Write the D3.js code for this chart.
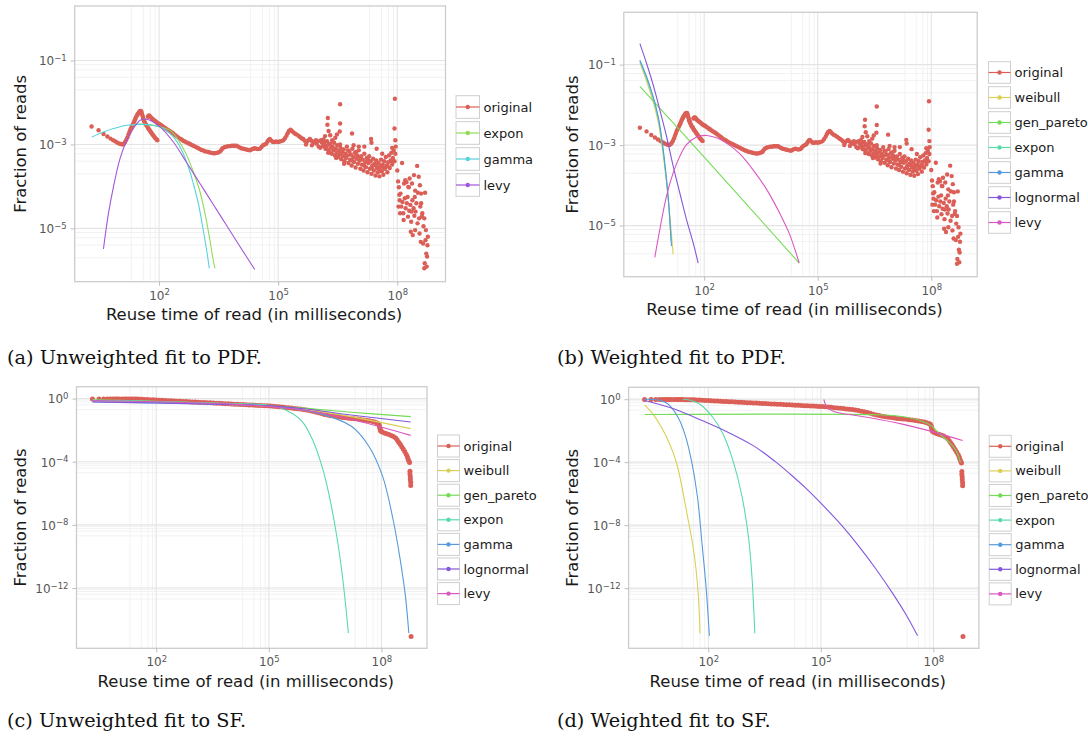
<!DOCTYPE html>
<html lang="en">
<head>
<meta charset="utf-8">
<title>Reuse time of reads: fitted distributions</title>
<script src="https://cdn.jsdelivr.net/npm/d3@7"></script>
<style>
  body { margin: 0; background: #fff; }
  svg { display: block; }
</style>
</head>
<body>
<script>
// every pair is [log10(reuse time in ms), log10(fraction of reads)]

// empirical PDF (panels a and b)
const pdfOriginal = [
  [0.301,-2.57],[0.477,-2.66],[0.602,-2.75],[0.699,-2.81],[0.778,-2.86],[0.845,-2.90],[0.903,-2.93],[0.954,-2.96],
  [1.000,-2.98],[1.041,-2.99],[1.079,-3.00],[1.114,-2.98],[1.146,-2.94],[1.176,-2.89],[1.204,-2.83],[1.230,-2.76],
  [1.255,-2.70],[1.279,-2.64],[1.301,-2.60],[1.322,-2.56],[1.342,-2.52],[1.362,-2.48],[1.380,-2.44],[1.398,-2.40],
  [1.415,-2.36],[1.431,-2.33],[1.447,-2.30],[1.462,-2.28],[1.477,-2.26],[1.491,-2.24],[1.505,-2.22],[1.519,-2.21],
  [1.531,-2.20],[1.544,-2.20],[1.556,-2.22],[1.568,-2.26],[1.580,-2.30],[1.591,-2.34],[1.602,-2.38],[1.613,-2.41],
  [1.623,-2.44],[1.633,-2.46],[1.653,-2.50],[1.672,-2.53],[1.690,-2.55],[1.708,-2.58],[1.724,-2.61],[1.740,-2.63],
  [1.763,-2.66],[1.785,-2.69],[1.806,-2.72],[1.826,-2.75],[1.851,-2.78],[1.875,-2.81],[1.898,-2.84],[1.919,-2.86],
  [1.940,-2.88],[1.958,-2.90],
  [1.716,-2.34],[1.732,-2.32],[1.748,-2.31],[1.763,-2.32],[1.780,-2.34],[1.800,-2.36],[1.820,-2.38],[1.845,-2.40],
  [1.870,-2.42],[1.900,-2.44],[1.925,-2.46],[1.950,-2.48],[1.975,-2.50],[2.000,-2.51],[2.025,-2.52],[2.050,-2.54],
  [2.080,-2.56],[2.110,-2.58],[2.140,-2.60],[2.170,-2.62],[2.200,-2.64],[2.235,-2.66],[2.270,-2.68],[2.300,-2.70],
  [2.330,-2.72],[2.360,-2.74],[2.400,-2.77],[2.440,-2.80],[2.480,-2.83],[2.528,-2.86],[2.570,-2.88],[2.610,-2.91],
  [2.650,-2.93],[2.696,-2.95],[2.740,-2.97],[2.780,-2.99],[2.820,-3.01],[2.864,-3.03],[2.910,-3.05],[2.950,-3.07],
  [2.990,-3.09],[3.031,-3.11],[3.070,-3.13],[3.110,-3.14],[3.150,-3.16],[3.199,-3.17],[3.240,-3.18],[3.280,-3.19],
  [3.320,-3.20],[3.366,-3.21],[3.410,-3.21],[3.450,-3.20],[3.490,-3.19],[3.534,-3.17],[3.560,-3.14],[3.590,-3.10],
  [3.618,-3.08],[3.660,-3.06],[3.700,-3.05],[3.740,-3.04],[3.786,-3.04],[3.830,-3.03],[3.870,-3.03],[3.910,-3.03],
  [3.953,-3.03],[3.990,-3.05],[4.030,-3.07],[4.070,-3.09],[4.121,-3.10],[4.160,-3.11],[4.200,-3.12],[4.247,-3.13],
  [4.290,-3.14],[4.330,-3.12],[4.370,-3.10],[4.410,-3.09],[4.450,-3.10],[4.490,-3.11],[4.540,-3.10],[4.580,-3.06],
  [4.620,-3.02],[4.660,-3.00],[4.700,-2.98],[4.730,-2.93],[4.760,-2.89],[4.790,-2.87],[4.830,-2.91],[4.870,-2.94],
  [4.910,-2.94],[4.950,-2.93],[5.000,-2.94],[5.040,-2.93],[5.080,-2.92],[5.130,-2.90],[5.170,-2.85],[5.210,-2.79],
  [5.240,-2.73],[5.270,-2.68],[5.310,-2.65],[5.340,-2.67],[5.380,-2.71],[5.420,-2.74],[5.460,-2.76],[5.510,-2.79],
  [5.550,-2.82],[5.590,-2.85],[5.630,-2.87],[5.670,-2.91],[5.720,-2.94],[5.760,-2.90],[5.800,-2.87],[5.840,-2.91],
  [5.890,-2.94],[5.930,-2.96],[5.970,-2.98],[6.010,-2.92],[6.060,-3.08],[6.100,-2.95],[6.140,-2.88],[6.180,-2.80],
  [5.700,-3.00],[5.850,-3.02],[6.020,-3.05],[6.080,-2.90],[5.950,-2.90],[6.120,-3.04],
  [6.15,-3.02],[6.17,-2.95],[6.19,-3.10],[6.21,-3.04],[6.23,-2.92],[6.25,-3.12],[6.26,-3.20],[6.27,-3.00],
  [6.29,-3.18],[6.31,-2.98],[6.33,-3.08],[6.35,-3.22],[6.36,-2.90],[6.37,-3.05],[6.39,-3.14],[6.41,-2.96],
  [6.43,-3.26],[6.45,-3.10],[6.46,-3.32],[6.47,-3.20],[6.49,-3.02],[6.51,-3.30],[6.53,-3.15],[6.55,-3.24],
  [6.56,-3.00],[6.57,-3.08],[6.59,-3.35],[6.61,-3.18],[6.63,-3.28],[6.65,-3.12],[6.66,-3.46],[6.67,-3.40],
  [6.69,-3.22],[6.71,-3.32],[6.73,-3.05],[6.75,-3.26],[6.76,-3.14],[6.77,-3.44],[6.79,-3.16],[6.81,-3.36],
  [6.83,-3.24],[6.85,-3.50],[6.86,-3.38],[6.87,-3.10],[6.89,-3.30],[6.91,-3.42],[6.93,-3.20],[6.95,-3.55],
  [6.96,-3.18],[6.97,-3.34],[6.99,-3.26],[7.01,-3.46],[7.03,-3.14],[7.05,-3.38],[7.06,-3.30],[7.07,-3.58],
  [7.09,-3.28],[7.11,-3.48],[7.13,-3.36],[7.15,-3.62],[7.16,-3.50],[7.17,-3.22],[7.19,-3.42],[7.21,-3.54],
  [7.23,-3.32],[7.25,-3.66],[7.26,-3.36],[7.27,-3.44],[7.29,-3.28],[7.31,-3.58],[7.33,-3.40],[7.35,-3.70],
  [7.36,-3.56],[7.37,-3.50],[7.39,-3.34],[7.41,-3.62],[7.43,-3.46],[7.45,-3.74],[7.46,-3.50],[7.47,-3.38],
  [7.49,-3.56],[7.51,-3.66],[7.53,-3.44],[7.55,-3.76],[7.56,-3.60],[7.57,-3.52],[7.59,-3.36],[7.61,-3.64],
  [7.63,-3.48],[7.65,-3.72],[7.66,-3.56],[7.67,-3.40],[7.69,-3.58],[7.71,-3.30],[7.73,-3.50],[7.75,-3.66],
  [7.76,-3.52],[7.77,-3.42],[7.79,-3.26],[7.81,-3.56],[7.83,-3.38],[7.85,-3.20],[7.86,-3.40],[7.87,-3.48],
  [7.89,-3.32],[7.91,-3.14],[7.93,-3.40],[7.95,-3.22],
  [6.25,-2.37],[6.24,-2.53],[6.27,-2.68],[6.31,-2.78],[6.56,-2.04],[6.56,-2.50],[6.55,-2.69],[6.86,-2.74],
  [7.34,-2.87],[7.35,-2.96],[7.94,-1.91],[7.93,-2.62],[7.95,-2.90],[7.96,-3.05],[6.44,-2.84],[6.48,-2.76],
  [7.17,-3.05],[7.48,-3.10],[7.62,-3.22],[7.87,-3.08],[6.90,-3.02],[7.03,-3.05],
  [8.00,-3.62],[8.02,-3.88],[8.04,-4.02],[8.03,-4.48],[8.05,-4.20],[8.06,-4.33],[8.07,-4.64],[8.08,-4.17],
  [8.10,-4.48],[8.12,-3.44],[8.13,-4.37],[8.15,-4.64],[8.16,-4.80],[8.17,-3.93],[8.19,-4.28],[8.21,-4.52],
  [8.23,-3.90],[8.24,-4.40],[8.26,-4.25],[8.27,-4.72],[8.29,-4.02],[8.30,-4.58],[8.31,-3.81],[8.33,-4.44],
  [8.34,-5.08],[8.35,-4.84],[8.37,-3.93],[8.38,-4.33],[8.39,-5.16],[8.41,-4.52],[8.42,-3.73],[8.43,-4.70],
  [8.44,-4.25],[8.45,-5.04],[8.46,-4.60],[8.48,-4.40],[8.50,-3.51],[8.51,-4.88],[8.52,-4.15],[8.54,-3.77],
  [8.55,-4.76],[8.56,-5.12],[8.57,-3.97],[8.58,-4.48],[8.59,-5.32],[8.60,-4.17],[8.62,-4.71],[8.63,-4.64],
  [8.65,-5.36],[8.66,-4.95],[8.68,-4.76],[8.69,-5.83],[8.70,-4.15],[8.71,-5.28],[8.72,-5.04],[8.73,-5.60],
  [8.74,-5.91],[8.75,-5.67],[8.76,-5.40],[8.68,-5.95],[8.77,-5.20],[8.60,-4.40],[8.45,-4.10],[8.28,-4.01],
  [8.20,-3.85],[8.36,-4.60]
];

// empirical survival function (panels c and d)
const sfOriginal = [
  [0.301,-0.02],[0.477,-0.02],[0.602,-0.02],[0.699,-0.02],[0.778,-0.02],[0.845,-0.02],[0.903,-0.02],[0.954,-0.02],
  [1.00,-0.02],[1.08,-0.02],[1.15,-0.02],[1.20,-0.02],[1.26,-0.02],[1.32,-0.02],[1.38,-0.03],[1.44,-0.03],
  [1.50,-0.03],[1.56,-0.04],[1.62,-0.04],[1.68,-0.05],[1.76,-0.06],[1.84,-0.07],[1.92,-0.08],[2.00,-0.09],
  [2.08,-0.10],[2.16,-0.11],[2.24,-0.12],[2.32,-0.13],[2.40,-0.14],[2.48,-0.15],[2.56,-0.16],[2.64,-0.17],
  [2.72,-0.18],[2.80,-0.19],[2.88,-0.20],[2.96,-0.21],[3.04,-0.22],[3.12,-0.23],[3.20,-0.24],[3.28,-0.25],
  [3.36,-0.26],[3.44,-0.27],[3.52,-0.28],[3.60,-0.29],[3.68,-0.30],[3.76,-0.31],[3.84,-0.32],[3.92,-0.33],
  [4.00,-0.34],[4.08,-0.35],[4.16,-0.36],[4.24,-0.37],[4.32,-0.38],[4.40,-0.39],[4.48,-0.40],[4.56,-0.41],
  [4.64,-0.42],[4.72,-0.43],[4.80,-0.44],[4.88,-0.45],[4.96,-0.46],[5.04,-0.47],[5.12,-0.48],[5.20,-0.50],
  [5.28,-0.52],[5.36,-0.54],[5.44,-0.56],[5.52,-0.58],[5.60,-0.60],[5.68,-0.62],[5.76,-0.64],[5.84,-0.66],
  [5.92,-0.69],[6.00,-0.72],[6.08,-0.76],[6.16,-0.80],[6.24,-0.85],[6.32,-0.90],[6.40,-0.95],[6.48,-1.00],
  [6.56,-1.04],[6.64,-1.08],[6.72,-1.11],[6.80,-1.14],[6.88,-1.17],[6.96,-1.20],[7.04,-1.22],[7.12,-1.24],
  [7.20,-1.26],[7.28,-1.28],[7.36,-1.30],[7.44,-1.32],[7.52,-1.35],[7.60,-1.38],[7.68,-1.41],[7.76,-1.45],
  [7.82,-1.49],[7.88,-1.54],[7.92,-1.60],[7.94,-1.68],[7.95,-1.78],[7.96,-1.88],[7.97,-1.98],[7.98,-2.06],
  [8.02,-2.12],[8.08,-2.18],[8.14,-2.23],[8.20,-2.28],[8.26,-2.33],[8.32,-2.40],[8.38,-2.50],[8.42,-2.62],
  [8.46,-2.76],[8.50,-2.90],[8.54,-3.05],[8.58,-3.20],[8.62,-3.35],[8.66,-3.52],[8.69,-3.68],[8.71,-3.82],
  [8.73,-3.95],[8.75,-4.05],[8.76,-4.60],[8.76,-4.78],[8.77,-4.95],[8.77,-5.12],[8.78,-5.30],[8.78,-5.50],
  [8.79,-15.07]
];

// (a) unweighted fits to the PDF
const aExpon = [[1.313,-2.54],[1.522,-2.516],[2.025,-2.579],[2.277,-2.659],[2.486,-2.897],[2.696,-3.254],[2.863,-3.651],
  [3.031,-4.127],[3.157,-4.643],[3.266,-5.198],[3.35,-5.675],[3.408,-5.952]];
const aGamma = [[0.307,-2.82],[0.60,-2.70],[0.852,-2.62],[1.187,-2.54],[1.522,-2.52],[1.857,-2.54],[2.109,-2.62],
  [2.36,-2.82],[2.57,-3.135],[2.738,-3.53],[2.863,-3.93],[2.989,-4.40],[3.098,-4.96],[3.199,-5.52],[3.266,-5.95]];
const aLevy = [[0.60,-5.49],[0.726,-4.643],[0.852,-4.008],[1.019,-3.333],[1.187,-2.897],[1.355,-2.619],[1.522,-2.421],
  [1.648,-2.397],[1.774,-2.421],[2.025,-2.58],[2.36,-2.94],[2.696,-3.43],[3.031,-3.93],[3.366,-4.43],
  [3.702,-4.93],[4.037,-5.43],[4.41,-5.98]];

// (b) weighted fits to the PDF
const bWeibull = [[0.301,-0.95],[0.474,-1.40],[0.651,-1.92],[0.783,-2.42],[0.871,-2.92],[0.959,-3.55],[1.048,-4.30],
  [1.12,-5.05],[1.18,-5.72]];
const bGenPareto = [[0.301,-1.54],[2.0,-3.30],[4.51,-5.93]];
const bExpon = [[0.301,-0.91],[0.474,-1.33],[0.651,-1.84],[0.783,-2.33],[0.871,-2.84],[0.959,-3.50],[1.048,-4.33],
  [1.10,-5.0],[1.125,-5.38]];
const bGamma = [[0.301,-0.89],[0.474,-1.29],[0.651,-1.79],[0.783,-2.28],[0.871,-2.78],[0.959,-3.44],[1.048,-4.27],
  [1.109,-5.10],[1.136,-5.51]];
const bLognormal = [[0.301,-0.48],[0.474,-0.96],[0.651,-1.50],[0.827,-2.12],[1.004,-2.78],[1.18,-3.52],[1.356,-4.19],
  [1.533,-4.85],[1.709,-5.43],[1.841,-5.93]];
const bLevy = [[0.695,-5.79],[0.827,-5.10],[1.004,-4.27],[1.18,-3.69],[1.356,-3.28],[1.533,-2.99],[1.797,-2.80],
  [2.062,-2.76],[2.326,-2.82],[2.591,-2.95],[2.944,-3.22],[3.296,-3.62],[3.649,-4.10],[4.0,-4.70],[4.25,-5.20],
  [4.51,-5.93]];

// (c) unweighted fits to the SF
const cWeibull = [[0.301,-0.15],[2,-0.25],[4,-0.38],[5,-0.48],[6,-0.70],[7.19,-1.14],[8.78,-1.90]];
const cGenPareto = [[0.301,-0.08],[2,-0.17],[4,-0.33],[5,-0.45],[6,-0.62],[7.19,-0.86],[8.78,-1.14]];
const cExpon = [[0.301,-0.10],[2,-0.18],[4,-0.32],[5,-0.42],[5.5,-0.78],[5.88,-1.42],[6.16,-2.58],[6.44,-4.49],
  [6.63,-6.39],[6.81,-8.72],[6.95,-11.05],[7.05,-13.16],[7.12,-14.86]];
const cGamma = [[0.301,-0.20],[2,-0.27],[4,-0.36],[5,-0.46],[6.25,-0.89],[7.19,-1.74],[7.66,-3.0],[8.03,-4.91],
  [8.31,-7.66],[8.50,-10.2],[8.64,-12.53],[8.73,-14.86]];
const cLognormal = [[0.301,-0.22],[2,-0.28],[4,-0.38],[5,-0.46],[6,-0.66],[7.19,-1.04],[8.78,-1.48]];
const cLevy = [[0.301,-0.12],[2,-0.20],[4,-0.35],[5,-0.50],[6,-0.75],[7.19,-1.31],[8.78,-2.33]];

// (d) weighted fits to the SF
const dWeibull = [[0.301,-0.36],[0.53,-0.96],[0.76,-1.82],[0.98,-2.89],[1.16,-4.1],[1.43,-7.24],[1.62,-9.78],
  [1.73,-12.3],[1.78,-14.86]];
const dGenPareto = [[0.301,-0.97],[6.4,-0.98],[7.0,-1.05],[7.64,-1.35],[7.96,-1.71],[8.18,-2.25],[8.44,-2.78],
  [8.62,-3.32],[8.72,-4.02]];
const dExpon = [[1.33,0.0],[1.55,-0.08],[1.78,-0.32],[2.13,-1.18],[2.4,-2.25],[2.67,-4.0],[2.9,-6.18],[3.08,-8.93],
  [3.17,-11.47],[3.24,-14.86]];
const dGamma = [[0.301,-0.01],[0.62,-0.04],[0.85,-0.2],[0.98,-0.43],[1.2,-1.18],[1.38,-2.25],[1.56,-4.0],[1.71,-6.18],
  [1.84,-9.35],[1.94,-11.9],[2.03,-15.03]];
const dLognormal = [[0.301,-0.08],[1.0,-0.55],[1.87,-1.39],[2.4,-1.95],[3.2,-2.95],[3.78,-3.95],[4.18,-4.75],
  [4.6,-5.65],[5.02,-6.65],[5.55,-8.0],[6.0,-9.3],[6.46,-10.75],[6.92,-12.35],[7.25,-13.6],[7.58,-15.03]];
const dLevy = [[5.08,-0.02],[5.12,-0.3],[5.2,-0.6],[5.35,-0.78],[5.51,-0.88],[6.31,-1.18],[7.2,-1.6],[8.09,-2.14],
  [8.78,-2.63]];

const names4 = ["original", "expon", "gamma", "levy"];
const names7 = ["original", "weibull", "gen_pareto", "expon", "gamma", "lognormal", "levy"];
const colors4 = ["#db5f57", "#91db57", "#57d3db", "#a157db"];
const colors7 = ["#db5f57", "#dbd057", "#75db57", "#57dbaa", "#579adb", "#8457db", "#db57c1"];

const xTicks = [1e2, 1e5, 1e8];
const pdfYTicks = [1e-1, 1e-3, 1e-5];
const sfYTicks = [1e0, 1e-4, 1e-8, 1e-12];
const xLimits = [-0.124, 9.214];      // log10 axis limits
const pdfYLimits = [-6.27, 0.30];
const sfYLimits = [-15.82, 0.754];

const captions = ["(a) Unweighted fit to PDF.", "(b) Weighted fit to PDF.",
                  "(c) Unweighted fit to SF.", "(d) Weighted fit to SF."];

const panels = [
  { left: 74.7, right: 445.5, top: 6, bottom: 281.7, yLimits: pdfYLimits, yTicks: pdfYTicks,
    original: pdfOriginal, dot: 2.2, fits: [aExpon, aGamma, aLevy], names: names4, colors: colors4,
    legX: 456, legY: 107, legStep: 26, legW: 23.5, legH: 22.6, yTitleX: 26, xTitleY: 320,
    capX: 7, capY: 364, caption: captions[0] },
  { left: 623.8, right: 977.2, top: 12.3, bottom: 276.7, yLimits: pdfYLimits, yTicks: pdfYTicks,
    original: pdfOriginal, dot: 2.2, fits: [bWeibull, bGenPareto, bExpon, bGamma, bLognormal, bLevy], names: names7, colors: colors7,
    legX: 988.5, legY: 72.5, legStep: 25, legW: 22, legH: 21.6, yTitleX: 578, xTitleY: 315,
    capX: 557, capY: 364, caption: captions[1] },
  { left: 76.5, right: 427, top: 386.7, bottom: 648.3, yLimits: sfYLimits, yTicks: sfYTicks,
    original: sfOriginal, dot: 2.5, fits: [cWeibull, cGenPareto, cExpon, cGamma, cLognormal, cLevy], names: names7, colors: colors7,
    legX: 437.5, legY: 446, legStep: 24.6, legW: 22, legH: 22, yTitleX: 26, xTitleY: 687,
    capX: 7, capY: 727, caption: captions[2] },
  { left: 628.6, right: 978.9, top: 387.3, bottom: 648.3, yLimits: sfYLimits, yTicks: sfYTicks,
    original: sfOriginal, dot: 2.5, fits: [dWeibull, dGenPareto, dExpon, dGamma, dLognormal, dLevy], names: names7, colors: colors7,
    legX: 989.2, legY: 446.3, legStep: 24.6, legW: 22, legH: 22, yTitleX: 578, xTitleY: 687,
    capX: 557, capY: 727, caption: captions[3] }
];

const svg = d3.select("body").append("svg")
  .attr("width", 1088)
  .attr("height", 742);

const font = "'DejaVu Sans', Verdana, sans-serif";

// "10" with a superscript exponent
function powerLabel(text) {
  text.each(function(d) {
    const t = d3.select(this).text(null);
    const e = Math.round(Math.log10(d));
    t.append("tspan").text("10");
    t.append("tspan")
      .attr("dy", "-0.5em")
      .attr("font-size", "8.5px")
      .text(String(e).replace("-", "\u2212"));
  });
}

panels.forEach(function(p, i) {
  const x = d3.scaleLog()
    .domain(xLimits.map(v => Math.pow(10, v)))
    .range([p.left, p.right]);
  const y = d3.scaleLog()
    .domain(p.yLimits.map(v => Math.pow(10, v)))
    .range([p.bottom, p.top]);

  const g = svg.append("g");

  //Minor grid: 2,4,6,8 x the decade below each major tick
  const xMinor = xTicks.flatMap(t => [2, 4, 6, 8].map(m => m * t / 10));
  const yMinor = p.yTicks.flatMap(t => [2, 4, 6, 8].map(m => m * t / 10))
    .filter(v => v >= Math.pow(10, p.yLimits[0]));

  g.selectAll(".xminor").data(xMinor).enter().append("line")
    .attr("x1", d => x(d)).attr("x2", d => x(d))
    .attr("y1", p.top).attr("y2", p.bottom)
    .attr("stroke", "#f2f2f2").attr("stroke-width", 1);
  g.selectAll(".yminor").data(yMinor).enter().append("line")
    .attr("x1", p.left).attr("x2", p.right)
    .attr("y1", d => y(d)).attr("y2", d => y(d))
    .attr("stroke", "#f2f2f2").attr("stroke-width", 1);

  //Major grid
  g.selectAll(".xmajor").data(xTicks).enter().append("line")
    .attr("x1", d => x(d)).attr("x2", d => x(d))
    .attr("y1", p.top).attr("y2", p.bottom)
    .attr("stroke", "#e4e4e4").attr("stroke-width", 1.1);
  g.selectAll(".ymajor").data(p.yTicks).enter().append("line")
    .attr("x1", p.left).attr("x2", p.right)
    .attr("y1", d => y(d)).attr("y2", d => y(d))
    .attr("stroke", "#e4e4e4").attr("stroke-width", 1.1);

  //Clip marks to the panel
  const clipId = "clip" + i;
  svg.append("clipPath").attr("id", clipId)
    .append("rect")
    .attr("x", p.left).attr("y", p.top)
    .attr("width", p.right - p.left).attr("height", p.bottom - p.top);

  const marks = g.append("g").attr("clip-path", "url(#" + clipId + ")");

  //Original data as points
  marks.selectAll("circle")
    .data(p.original)
    .enter()
    .append("circle")
    .attr("cx", d => x(Math.pow(10, d[0])))
    .attr("cy", d => y(Math.pow(10, d[1])))
    .attr("r", p.dot)
    .attr("fill", p.colors[0]);

  //Fitted distributions as lines
  const line = d3.line()
    .x(d => x(Math.pow(10, d[0])))
    .y(d => y(Math.pow(10, d[1])))
    .curve(d3.curveCatmullRom.alpha(0.5));

  p.fits.forEach(function(f, k) {
    marks.append("path")
      .datum(f)
      .attr("d", line)
      .attr("fill", "none")
      .attr("stroke", p.colors[k + 1])
      .attr("stroke-width", 1.1);
  });

  //Panel border
  g.append("rect")
    .attr("x", p.left).attr("y", p.top)
    .attr("width", p.right - p.left).attr("height", p.bottom - p.top)
    .attr("fill", "none")
    .attr("stroke", "#cccccc")
    .attr("stroke-width", 1.3);

  //Axes
  const xAxis = d3.axisBottom(x).tickValues(xTicks).tickSize(4).tickFormat("");
  const yAxis = d3.axisLeft(y).tickValues(p.yTicks).tickSize(4).tickFormat("");

  const gx = g.append("g")
    .attr("transform", "translate(0," + p.bottom + ")")
    .call(xAxis);
  const gy = g.append("g")
    .attr("transform", "translate(" + p.left + ",0)")
    .call(yAxis);

  [gx, gy].forEach(function(a) {
    a.attr("font-family", font).attr("font-size", 12);
    a.select(".domain").remove();
    a.selectAll(".tick line").attr("stroke", "#bdbdbd");
    a.selectAll(".tick text").attr("fill", "#555555").call(powerLabel);
  });
  gx.selectAll(".tick text").attr("y", 18).attr("dy", null);
  gy.selectAll(".tick text").attr("x", -8).attr("y", 4.3).attr("dy", null);

  //Axis titles
  g.append("text")
    .attr("x", (p.left + p.right) / 2 - 6)
    .attr("y", p.xTitleY)
    .attr("text-anchor", "middle")
    .attr("font-family", font)
    .attr("font-size", "16.5px")
    .attr("fill", "#1a1a1a")
    .text("Reuse time of read (in milliseconds)");

  g.append("text")
    .attr("transform", "translate(" + p.yTitleX + "," + ((p.top + p.bottom) / 2) + ") rotate(-90)")
    .attr("text-anchor", "middle")
    .attr("font-family", font)
    .attr("font-size", "16.5px")
    .attr("fill", "#1a1a1a")
    .text("Fraction of reads");

  //Legend
  const leg = g.selectAll(".key")
    .data(p.names)
    .enter()
    .append("g")
    .attr("transform", (d, k) => "translate(" + p.legX + "," + (p.legY + k * p.legStep) + ")");

  leg.append("rect")
    .attr("x", 0).attr("y", -p.legH / 2)
    .attr("width", p.legW).attr("height", p.legH)
    .attr("fill", "#ffffff")
    .attr("stroke", "#cfcfcf")
    .attr("stroke-width", 1);
  leg.append("line")
    .attr("x1", 0).attr("x2", p.legW)
    .attr("y1", 0).attr("y2", 0)
    .attr("stroke", (d, k) => p.colors[k])
    .attr("stroke-width", 1.2);
  leg.append("circle")
    .attr("cx", p.legW / 2).attr("cy", 0)
    .attr("r", 2.2)
    .attr("fill", (d, k) => p.colors[k]);
  leg.append("text")
    .attr("x", p.legW + 4)
    .attr("y", 4.5)
    .attr("font-family", font)
    .attr("font-size", "13px")
    .attr("fill", "#1a1a1a")
    .text(d => d);

  //Caption
  svg.append("text")
    .attr("x", p.capX)
    .attr("y", p.capY)
    .attr("font-family", "'DejaVu Serif', 'Liberation Serif', serif")
    .attr("font-size", "19.3px")
    .attr("fill", "#111")
    .text(p.caption);
});
</script>
</body>
</html>
